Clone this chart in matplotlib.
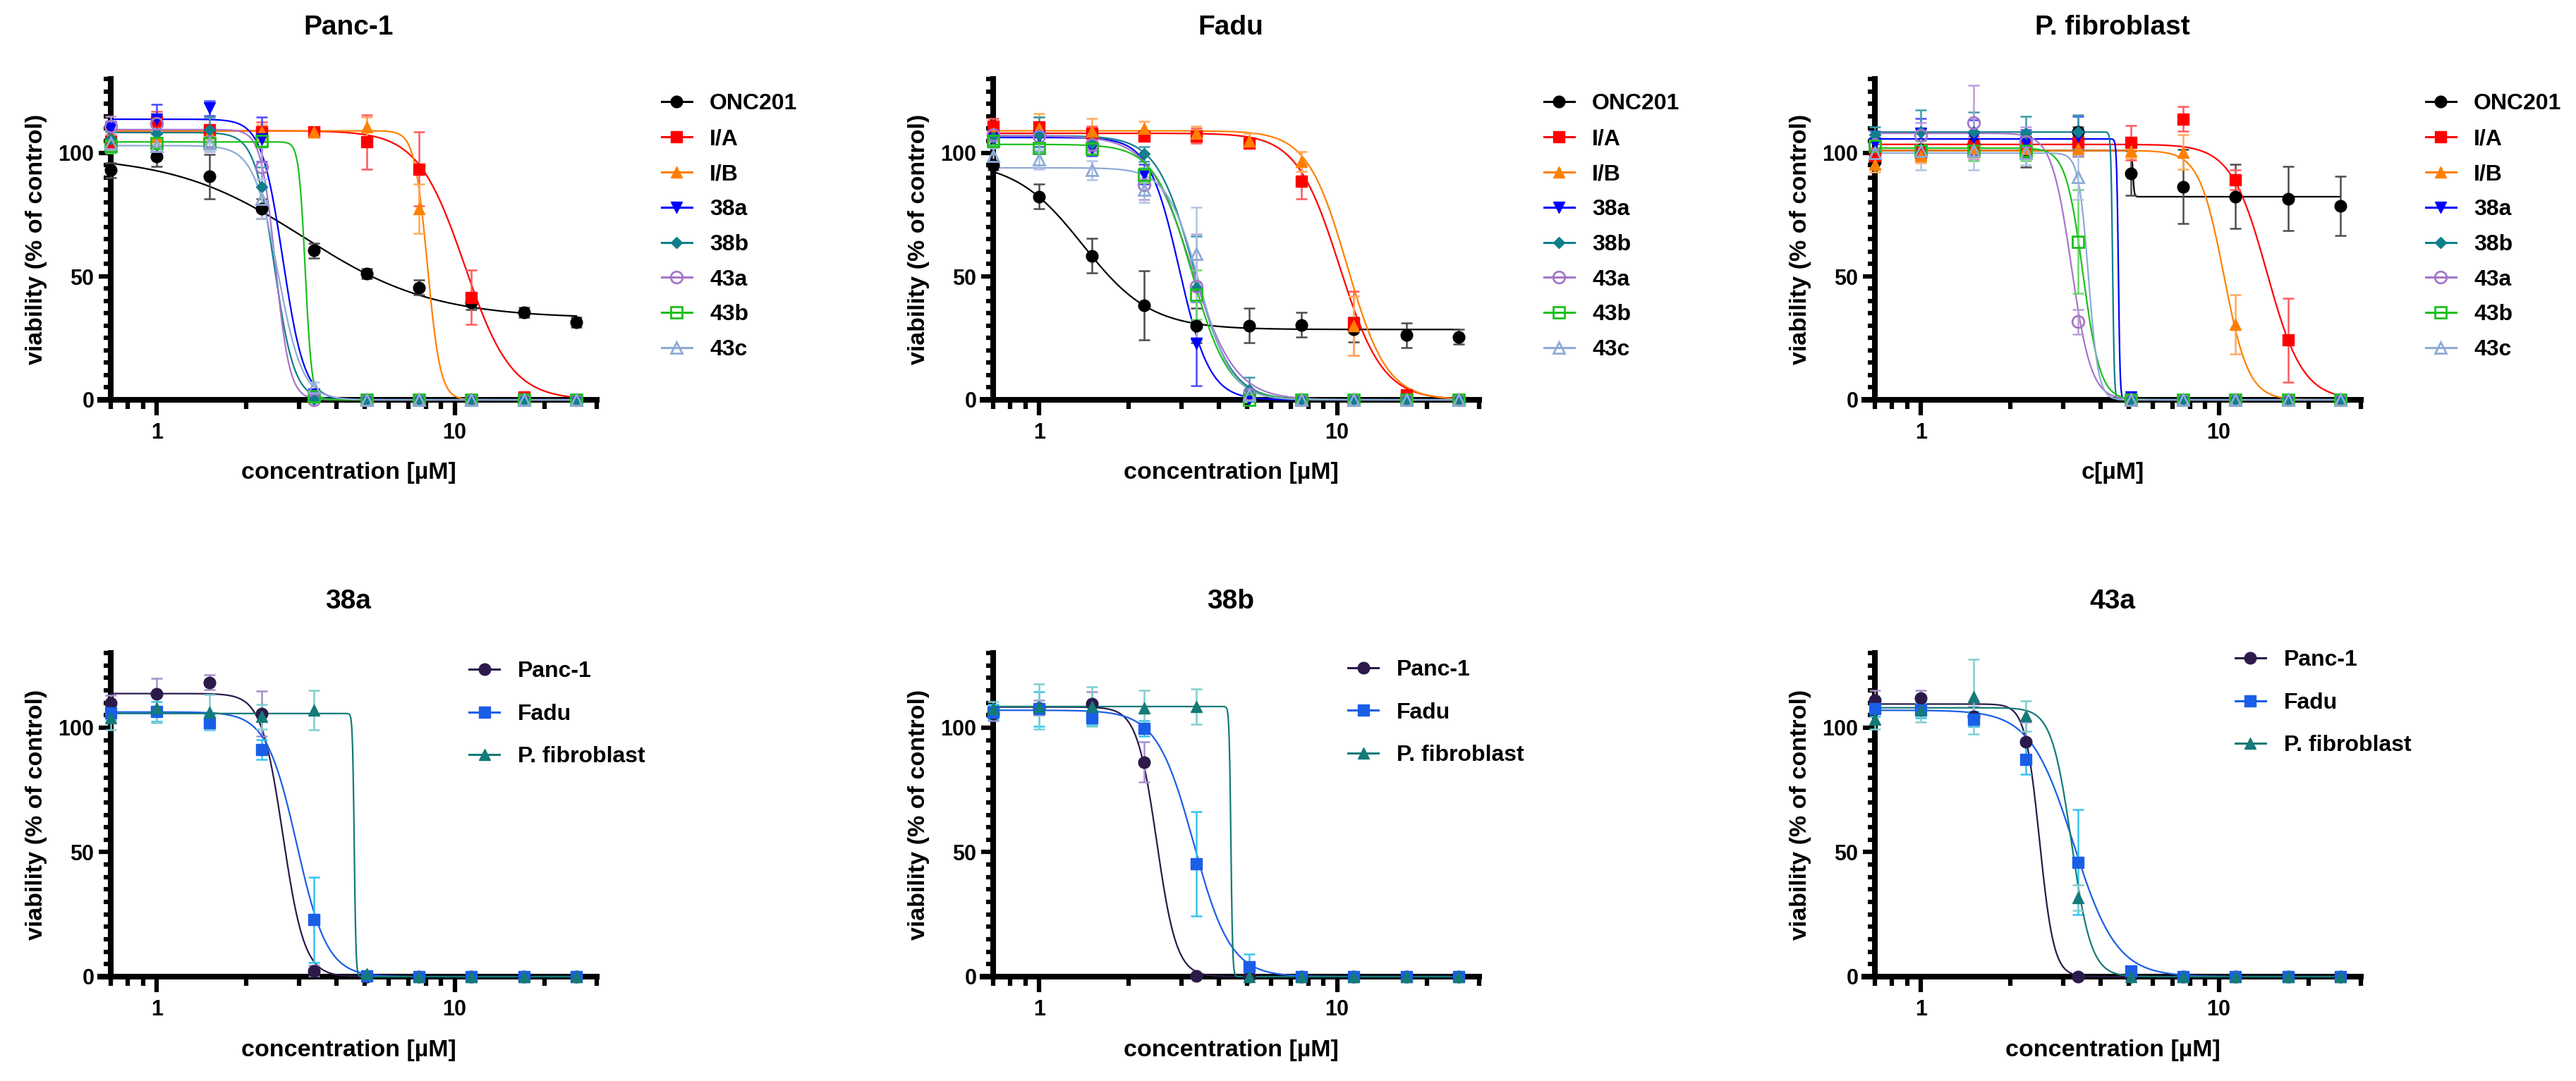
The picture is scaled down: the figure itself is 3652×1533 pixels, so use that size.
import numpy as np
import matplotlib
matplotlib.use('Agg')
import matplotlib.pyplot as plt
from matplotlib.lines import Line2D
from matplotlib.ticker import FixedLocator, MultipleLocator, LogLocator, NullFormatter

plt.rcParams['font.family'] = ['Liberation Sans', 'DejaVu Sans']
plt.rcParams['font.weight'] = 'bold'

# concentrations (uM)
conc = [0.7, 1.0, 1.5, 2.25, 3.375, 5.06, 7.59, 11.39, 17.09, 25.63]

compounds = ['ONC201', 'I/A', 'I/B', '38a', '38b', '43a', '43b', '43c']
cell_lines = ['Panc-1', 'Fadu', 'P. fibroblast']

# mean viability (% of control), rows in compound order
panc1_mean = [
    [93, 98.7, 90.5, 77.5, 60.5, 51, 45.5, 39.5, 35.5, 31.5],
    [104.5, 113, 109.5, 108.5, 108.5, 104.5, 93.5, 41.5, 1, 0],
    [107, 106.5, 108, 108.5, 108.5, 110.5, 77.5, 0.5, 0, 0],
    [110, 113.7, 118.2, 105.6, 2.4, 0, 0, 0, 0, 0],
    [105.7, 108, 109.5, 86.2, 0.3, 0, 0, 0, 0, 0],
    [111, 112, 104.5, 94.2, 0, 0, 0, 0, 0, 0],
    [103, 104, 104, 105, 1.5, 0, 0, 0, 0, 0],
    [104, 103, 104, 81.5, 5, 0, 0, 0, 0, 0],
]
panc1_sd = [
    [3, 4, 9, 4, 3, 2, 3, 3, 2, 2],
    [3, 4, 5, 4, 2, 11, 15, 11, 1, 0],
    [2, 3, 3, 3, 2, 4, 10, 1, 0, 0],
    [3, 6, 3, 9, 2, 0, 0, 0, 0, 0],
    [3, 3, 5, 8, 1, 0, 0, 0, 0, 0],
    [4, 3, 4, 8, 1, 0, 0, 0, 0, 0],
    [3, 2, 2, 2, 1, 0, 0, 0, 0, 0],
    [3, 3, 3, 8, 2, 0, 0, 0, 0, 0],
]
fadu_mean = [
    [95, 82.3, 58.3, 38.2, 30, 30, 30.3, 28.5, 26.2, 25.5],
    [111, 110.5, 108, 107, 107, 104, 88.5, 31, 2, 0],
    [108, 110, 109, 110, 108, 105, 96.5, 30, 0, 0],
    [106, 106.5, 102, 91.3, 22.8, 0.4, 0, 0, 0, 0],
    [106.3, 107.5, 104, 99.7, 45.3, 4, 0, 0, 0, 0],
    [107.5, 107, 103.5, 87.2, 46, 2.3, 0, 0, 0, 0],
    [105, 102, 101.7, 91, 42.5, 0, 0, 0, 0, 0],
    [99, 97.5, 93, 85, 59, 2, 0, 0, 0, 0],
]
fadu_sd = [
    [2, 5, 7, 14, 7, 7, 5, 5, 5, 3],
    [3, 4, 3, 2, 3, 2, 7, 13, 1, 0],
    [3, 6, 5, 3, 3, 3, 4, 12, 1, 0],
    [3, 4, 3, 4, 17, 1, 0, 0, 0, 0],
    [3, 7, 3, 3, 21, 5, 0, 0, 0, 0],
    [3, 3, 3, 6, 21, 2, 0, 0, 0, 0],
    [2, 2, 2, 3, 10, 1, 0, 0, 0, 0],
    [3, 4, 4, 5, 19, 2, 0, 0, 0, 0],
]
fibro_mean = [
    [96.6, 101.3, 103.6, 100.4, 108.7, 91.8, 86.3, 82.3, 81.5, 78.5],
    [99, 100.4, 103, 103, 104.2, 104.2, 113.8, 89.2, 24.2, 0],
    [95.3, 99, 102, 101.6, 101.6, 101, 100.4, 30.6, 0, 0],
    [104, 108, 106.3, 104.4, 107, 1, 0, 0, 0, 0],
    [107.5, 108.5, 108.5, 108, 108.5, 0, 0, 0, 0, 0],
    [103.5, 107.2, 112.4, 104.7, 31.7, 0, 0, 0, 0, 0],
    [103, 101, 101, 101, 64, 0, 0, 0, 0, 0],
    [100, 101, 101, 100, 90.2, 0, 0, 0, 0, 0],
]
fibro_sd = [
    [3, 4, 5, 6, 2, 9, 15, 13, 13, 12],
    [3, 3, 4, 4, 4, 7, 5, 4, 17, 0],
    [3, 3, 4, 4, 3, 3, 7, 12, 0, 0],
    [5, 6, 7, 5, 8, 1, 0, 0, 0, 0],
    [3, 9, 8, 7, 7, 0, 0, 0, 0, 0],
    [4, 5, 15, 6, 5, 0, 0, 0, 0, 0],
    [3, 4, 4, 4, 21, 0, 0, 0, 0, 0],
    [4, 8, 8, 5, 9, 0, 0, 0, 0, 0],
]

# fitted curves: top, bottom, IC50, hill slope
panc1_fit = [
    [99, 33, 3.1, 2.0],
    [109, 0, 10.8, 5.5],
    [109, 0, 8.1, 20],
    [113.7, 0, 2.65, 12],
    [108.3, 0, 2.48, 13],
    [109.5, 0, 2.5, 18],
    [104.5, 0, 3.15, 40],
    [103, 0, 2.55, 10.6],
]
fadu_fit = [
    [97, 28.5, 1.40, 3.8],
    [108, 0, 10.2, 6],
    [109, 0, 10.8, 6.5],
    [106.3, 0, 2.95, 8.5],
    [107, 0, 3.3, 7],
    [107, 0, 3.25, 6],
    [103.5, 0, 3.25, 7],
    [94, 0, 3.45, 8],
]
fibro_fit = [
    [101, 82.3, 5.15, 200],
    [103.5, 0, 14.5, 7.2],
    [101, 0, 10.4, 10.5],
    [105.7, 0, 4.6, 150],
    [108.5, 0, 4.4, 150],
    [108, 0, 3.2, 13],
    [102, 0, 3.5, 15],
    [100, 0, 3.65, 26],
]

comp_colors = ['#000000', '#ff0000', '#ff8000', '#0000ff', '#0f7f8c', '#a576c9', '#1dbf1d', '#8eaad6']
comp_err = ['#4d4d4d', '#ff5a5a', '#ffab5c', '#4a4aff', '#3c9fa9', '#bc9ddb', '#67d867', '#b0c4e4']
comp_markers = ['o', 's', '^', 'v', 'D', 'o', 's', '^']
comp_filled = [True, True, True, True, True, False, False, False]
comp_msize = [12, 12, 12, 12, 8, 12, 12, 12]

cell_colors = ['#2b1a4a', '#1a5ee8', '#157a78']
cell_err = ['#a68fca', '#35c4f0', '#7fcfcf']
cell_markers = ['o', 's', '^']

W, H = 3652, 1533
fig = plt.figure(figsize=(W / 100, H / 100), dpi=100)

col_left = [142, 1393, 2643]
ax_w = 704
rows = [(112, 455), (926, 459)]


def hill(x, p):
    top, bottom, ic50, h = p
    return bottom + (top - bottom) / (1 + (x / ic50) ** h)


def style_axes(ax, title, xlabel):
    ax.set_xscale('log')
    ax.set_xlim(0.645, 30)
    ax.set_ylim(0, 130)
    for s in ['top', 'right']:
        ax.spines[s].set_visible(False)
    ax.spines['left'].set_position(('data', 0.7))
    for s in ['left', 'bottom']:
        ax.spines[s].set_linewidth(5.8)
        ax.spines[s].set_zorder(2)
    ax.yaxis.set_major_locator(FixedLocator([0, 50, 100]))
    ax.yaxis.set_minor_locator(MultipleLocator(5))
    ax.xaxis.set_major_locator(FixedLocator([1, 10]))
    ax.xaxis.set_minor_locator(LogLocator(base=10, subs=np.arange(2, 10)))
    ax.xaxis.set_minor_formatter(NullFormatter())
    ax.set_xticklabels(['1', '10'])
    ax.tick_params(axis='y', which='major', length=12, width=4.5, labelsize=22, pad=5)
    ax.tick_params(axis='y', which='minor', length=7, width=4.5)
    ax.tick_params(axis='x', which='major', length=16, width=4.5, labelsize=22, pad=7)
    ax.tick_params(axis='x', which='minor', length=9, width=4.5)
    ax.set_ylabel('viability (% of control)', fontsize=24.5, fontweight='bold', va='center')
    ax.yaxis.set_label_coords(-0.128, 0.5)
    ax.set_xlabel(xlabel, fontsize=24.5, fontweight='bold', va='center')
    ax.xaxis.set_label_coords(0.5, -0.228)
    ax.text(0.5, 1.16, title, transform=ax.transAxes, ha='center', va='center',
            fontsize=28, fontweight='bold')


def draw_series(ax, mean, sd, fit, color, ecolor, marker, filled, msize):
    xs = np.geomspace(conc[0], conc[-1], 800)
    ax.plot(xs, hill(xs, fit), color=color, lw=1.6, zorder=3, clip_on=False)
    ax.errorbar(conc, mean, yerr=sd, fmt='none', ecolor=ecolor, elinewidth=1.8,
                capsize=6, capthick=1.8, zorder=3, clip_on=False)
    ax.plot(conc, mean, ls='none', marker=marker, markersize=msize,
            markerfacecolor=color if filled else 'none', markeredgecolor=color,
            markeredgewidth=2 if not filled else 1, zorder=4, clip_on=False)


def legend_handle(color, marker, filled, msize):
    return Line2D([0], [0], color=color, lw=2.2, marker=marker, markersize=msize,
                  markerfacecolor=color if filled else 'none', markeredgecolor=color,
                  markeredgewidth=2 if not filled else 1)


top_data = [(panc1_mean, panc1_sd, panc1_fit),
            (fadu_mean, fadu_sd, fadu_fit),
            (fibro_mean, fibro_sd, fibro_fit)]
top_xlabels = ['concentration [µM]', 'concentration [µM]', 'c[µM]']

# top row: one panel per cell line, all compounds
for j, cell in enumerate(cell_lines):
    top_px, h_px = rows[0]
    ax = fig.add_axes([col_left[j] / W, 1 - (top_px + h_px) / H, ax_w / W, h_px / H])
    means, sds, fits = top_data[j]
    for k in range(len(compounds)):
        draw_series(ax, means[k], sds[k], fits[k], comp_colors[k], comp_err[k],
                    comp_markers[k], comp_filled[k], comp_msize[k])
    style_axes(ax, cell, top_xlabels[j])
    handles = [legend_handle(comp_colors[k], comp_markers[k], comp_filled[k], comp_msize[k])
               for k in range(len(compounds))]
    ax.legend(handles, compounds, loc='upper left', bbox_to_anchor=(1.13, 0.955),
              frameon=False, fontsize=23, handlelength=1.35, handletextpad=0.8,
              labelspacing=0.62, borderaxespad=0, borderpad=0)

# bottom row: one panel per compound, all cell lines
bottom_compounds = ['38a', '38b', '43a']
leg_x = [0.743, 0.736, 0.747]
leg_y = [0.975, 0.98, 1.01]
for j, comp in enumerate(bottom_compounds):
    k = compounds.index(comp)
    top_px, h_px = rows[1]
    ax = fig.add_axes([col_left[j] / W, 1 - (top_px + h_px) / H, ax_w / W, h_px / H])
    for c in range(len(cell_lines)):
        means, sds, fits = top_data[c]
        draw_series(ax, means[k], sds[k], fits[k], cell_colors[c], cell_err[c],
                    cell_markers[c], True, 12)
    style_axes(ax, comp, 'concentration [µM]')
    handles = [legend_handle(cell_colors[c], cell_markers[c], True, 12) for c in range(3)]
    ax.legend(handles, cell_lines, loc='upper left', bbox_to_anchor=(leg_x[j], leg_y[j]),
              frameon=False, fontsize=23, handlelength=1.35, handletextpad=0.8,
              labelspacing=0.95, borderaxespad=0, borderpad=0)

fig.savefig('out.png', dpi=100)
